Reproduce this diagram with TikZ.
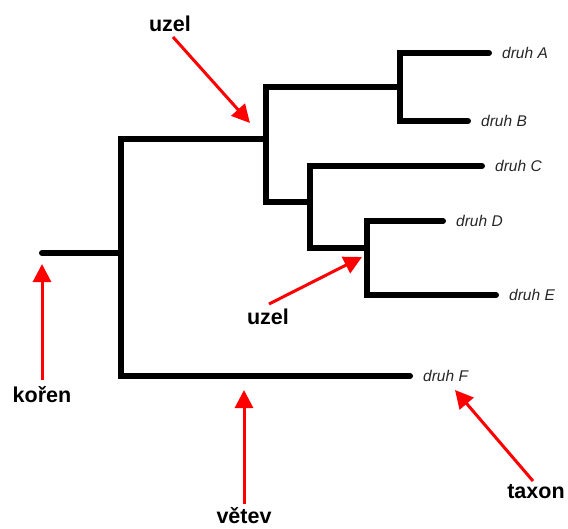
\documentclass[tikz,border=0pt]{standalone}
\usepackage{fontspec}
\setmainfont{Liberation Sans}
\usetikzlibrary{arrows.meta}
\begin{document}
\begin{tikzpicture}[x=1pt,y=-1pt,
  branch/.style={line width=6pt,line cap=round,line join=miter},
  leaflbl/.style={anchor=west,inner sep=0pt,xshift=13pt,font=\fontsize{15.5}{18}\selectfont\itshape,text=black!85},
  callout/.style={font=\fontsize{21.5}{25}\selectfont\bfseries,inner sep=0pt},
  redarrow/.style={draw=red,line width=3pt,-{Triangle[length=18pt,width=18pt]}}]
\useasboundingbox (0,0) rectangle (568,528);
% tree nodes
\coordinate (root) at (42,253);
\coordinate (n1) at (121,253);
\coordinate (n2) at (266,139);
\coordinate (n3) at (400,87);
\coordinate (n4) at (310,202);
\coordinate (n5) at (367,248);
\coordinate (A) at (489,53);
\coordinate (B) at (468,121);
\coordinate (C) at (482,166);
\coordinate (D) at (443,221);
\coordinate (E) at (496,295);
\coordinate (F) at (410,376);
% branches
\draw[branch] (root) -- (n1);
\draw[branch] (n1) |- (n2);
\draw[branch] (n1) |- (F);
\draw[branch] (n2) |- (n3);
\draw[branch] (n2) |- (n4);
\draw[branch] (n3) |- (A);
\draw[branch] (n3) |- (B);
\draw[branch] (n4) |- (C);
\draw[branch] (n4) |- (n5);
\draw[branch] (n5) |- (D);
\draw[branch] (n5) |- (E);
% leaf labels
\node[leaflbl] (lA) at (A) {druh A};
\node[leaflbl] (lB) at (B) {druh B};
\node[leaflbl] (lC) at (C) {druh C};
\node[leaflbl] (lD) at (D) {druh D};
\node[leaflbl] (lE) at (E) {druh E};
\node[leaflbl] (lF) at (F) {druh F};
% callouts
\node[callout] (uzel1) at (170,24) {uzel};
\node[callout] (uzel2) at (268,317) {uzel};
\node[callout] (koren) at (42,395) {kořen};
\node[callout] (vetev) at (244,516) {větev};
\node[callout] (taxon) at (536,492) {taxon};
\coordinate (t1) at (173,37);   \coordinate (h1) at (250,123);
\coordinate (t2) at (269,304);  \coordinate (h2) at (362,257);
\coordinate (t3) at (42,380);   \coordinate (h3) at (42,264);
\coordinate (t4) at (244,504);  \coordinate (h4) at (244,390);
\coordinate (t5) at (533,481);  \coordinate (h5) at (455,390);
\draw[redarrow] (t1) -- (h1);
\draw[redarrow] (t2) -- (h2);
\draw[redarrow] (t3) -- (h3);
\draw[redarrow] (t4) -- (h4);
\draw[redarrow] (t5) -- (h5);
\end{tikzpicture}
\end{document}
